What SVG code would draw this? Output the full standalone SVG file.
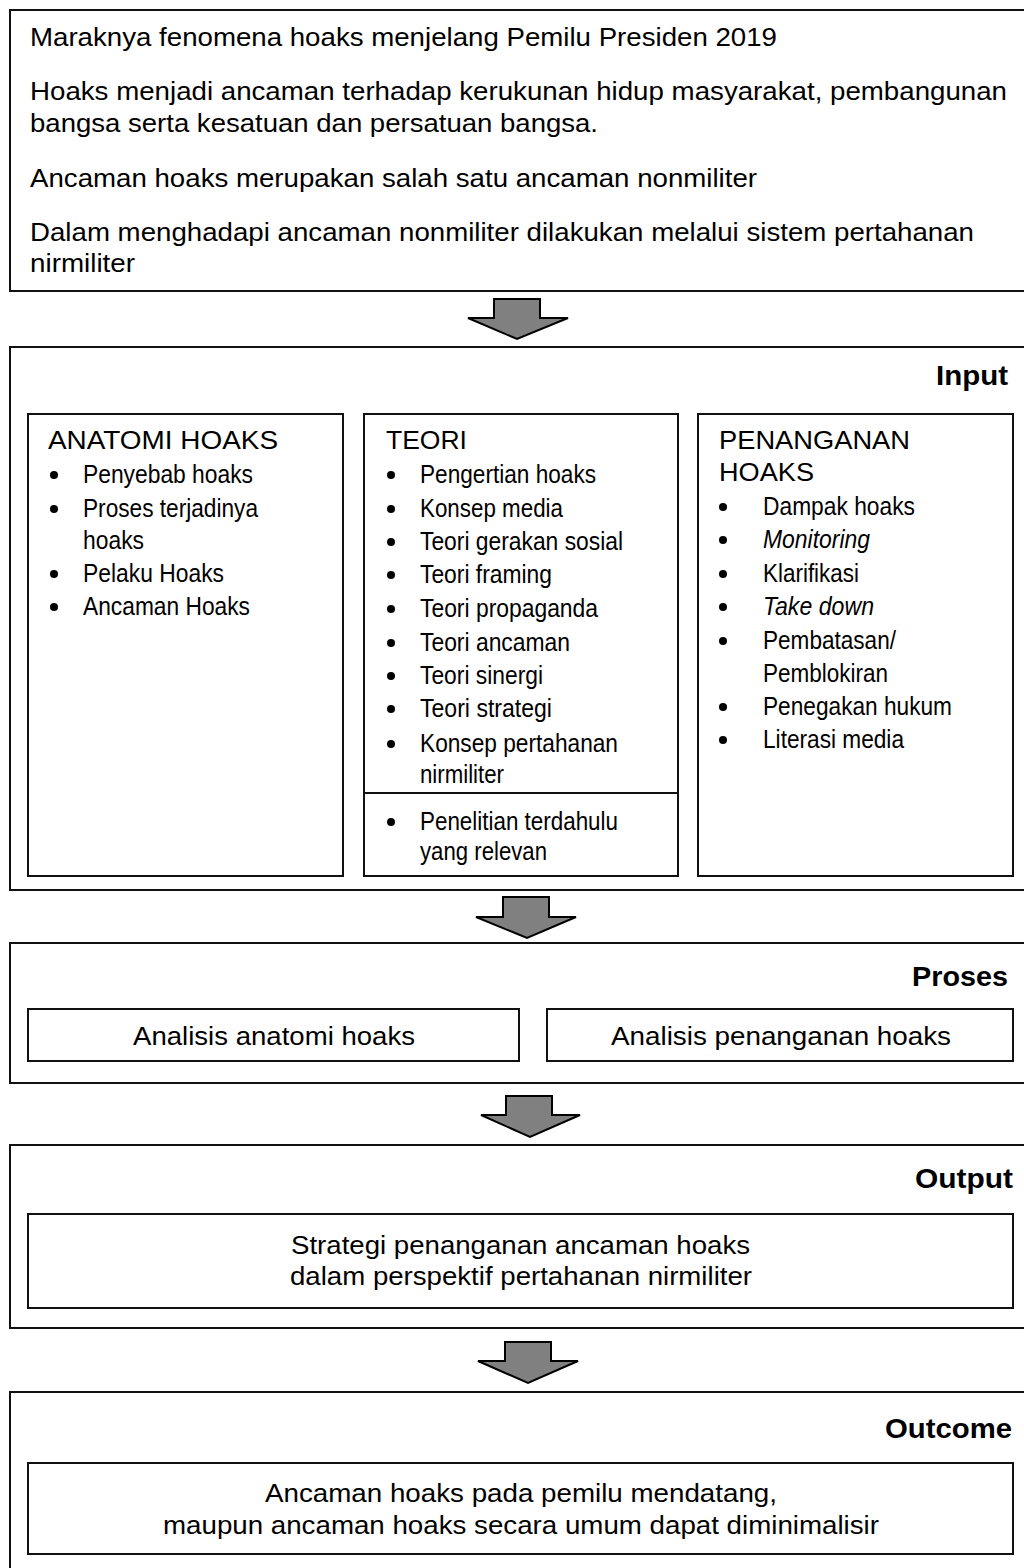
<svg xmlns="http://www.w3.org/2000/svg" width="1024" height="1568" viewBox="0 0 1024 1568">
<style>
.box{fill:#fff;stroke:#111;stroke-width:2}
.t{font-family:"Liberation Sans",Arial,sans-serif;font-size:26px;fill:#000}
.c{font-family:"Liberation Sans",Arial,sans-serif;font-size:25px;fill:#000}
.i{font-style:italic}
.b{font-family:"Liberation Sans",Arial,sans-serif;font-size:28px;font-weight:bold;fill:#000}
.dot{fill:#000}
.arr{fill:#808080;stroke:#000;stroke-width:2;stroke-linejoin:miter}
</style>
<rect width="1024" height="1568" fill="#fff"/>
<g id="latar">
<rect class="box" x="10" y="10" width="1024" height="281"/>
<text class="t" x="30" y="46" textLength="747" lengthAdjust="spacingAndGlyphs">Maraknya fenomena hoaks menjelang Pemilu Presiden 2019</text>
<text class="t" x="30" y="100" textLength="977" lengthAdjust="spacingAndGlyphs">Hoaks menjadi ancaman terhadap kerukunan hidup masyarakat, pembangunan</text>
<text class="t" x="30" y="132" textLength="568" lengthAdjust="spacingAndGlyphs">bangsa serta kesatuan dan persatuan bangsa.</text>
<text class="t" x="30" y="187" textLength="727" lengthAdjust="spacingAndGlyphs">Ancaman hoaks merupakan salah satu ancaman nonmiliter</text>
<text class="t" x="30" y="241" textLength="944" lengthAdjust="spacingAndGlyphs">Dalam menghadapi ancaman nonmiliter dilakukan melalui sistem pertahanan</text>
<text class="t" x="30" y="272" textLength="105" lengthAdjust="spacingAndGlyphs">nirmiliter</text>
</g>
<g id="input">
<rect class="box" x="10" y="347" width="1024" height="543"/>
<text class="b" x="936" y="385" textLength="72" lengthAdjust="spacingAndGlyphs">Input</text>
</g>
<g id="anatomi">
<rect class="box" x="28" y="414" width="315" height="462"/>
<text class="c" x="48" y="449" textLength="230" lengthAdjust="spacingAndGlyphs">ANATOMI HOAKS</text>
<circle class="dot" cx="54" cy="475" r="4"/>
<text class="c" x="83" y="483" textLength="170" lengthAdjust="spacingAndGlyphs">Penyebab hoaks</text>
<circle class="dot" cx="54" cy="509" r="4"/>
<text class="c" x="83" y="517" textLength="175" lengthAdjust="spacingAndGlyphs">Proses terjadinya</text>
<text class="c" x="83" y="549" textLength="61" lengthAdjust="spacingAndGlyphs">hoaks</text>
<circle class="dot" cx="54" cy="574" r="4"/>
<text class="c" x="83" y="582" textLength="141" lengthAdjust="spacingAndGlyphs">Pelaku Hoaks</text>
<circle class="dot" cx="54" cy="607" r="4"/>
<text class="c" x="83" y="615" textLength="167" lengthAdjust="spacingAndGlyphs">Ancaman Hoaks</text>
</g>
<g id="teori">
<rect class="box" x="364" y="414" width="314" height="462"/>
<line x1="364" y1="793" x2="678" y2="793" stroke="#111" stroke-width="2"/>
<text class="c" x="386" y="449" textLength="81" lengthAdjust="spacingAndGlyphs">TEORI</text>
<circle class="dot" cx="391" cy="475" r="4"/>
<text class="c" x="420" y="483" textLength="176" lengthAdjust="spacingAndGlyphs">Pengertian hoaks</text>
<circle class="dot" cx="391" cy="509" r="4"/>
<text class="c" x="420" y="517" textLength="143" lengthAdjust="spacingAndGlyphs">Konsep media</text>
<circle class="dot" cx="391" cy="542" r="4"/>
<text class="c" x="420" y="550" textLength="203" lengthAdjust="spacingAndGlyphs">Teori gerakan sosial</text>
<circle class="dot" cx="391" cy="575" r="4"/>
<text class="c" x="420" y="583" textLength="132" lengthAdjust="spacingAndGlyphs">Teori framing</text>
<circle class="dot" cx="391" cy="609" r="4"/>
<text class="c" x="420" y="617" textLength="178" lengthAdjust="spacingAndGlyphs">Teori propaganda</text>
<circle class="dot" cx="391" cy="643" r="4"/>
<text class="c" x="420" y="651" textLength="150" lengthAdjust="spacingAndGlyphs">Teori ancaman</text>
<circle class="dot" cx="391" cy="676" r="4"/>
<text class="c" x="420" y="684" textLength="123" lengthAdjust="spacingAndGlyphs">Teori sinergi</text>
<circle class="dot" cx="391" cy="709" r="4"/>
<text class="c" x="420" y="717" textLength="132" lengthAdjust="spacingAndGlyphs">Teori strategi</text>
<circle class="dot" cx="391" cy="744" r="4"/>
<text class="c" x="420" y="752" textLength="198" lengthAdjust="spacingAndGlyphs">Konsep pertahanan</text>
<text class="c" x="420" y="783" textLength="84" lengthAdjust="spacingAndGlyphs">nirmiliter</text>
<circle class="dot" cx="391" cy="822" r="4"/>
<text class="c" x="420" y="830" textLength="198" lengthAdjust="spacingAndGlyphs">Penelitian terdahulu</text>
<text class="c" x="420" y="860" textLength="127" lengthAdjust="spacingAndGlyphs">yang relevan</text>
</g>
<g id="penanganan">
<rect class="box" x="698" y="414" width="315" height="462"/>
<text class="c" x="719" y="449" textLength="191" lengthAdjust="spacingAndGlyphs">PENANGANAN</text>
<text class="c" x="719" y="481" textLength="95" lengthAdjust="spacingAndGlyphs">HOAKS</text>
<circle class="dot" cx="723" cy="507" r="4"/>
<text class="c" x="763" y="515" textLength="152" lengthAdjust="spacingAndGlyphs">Dampak hoaks</text>
<circle class="dot" cx="723" cy="540" r="4"/>
<text class="c i" x="763" y="548" textLength="107" lengthAdjust="spacingAndGlyphs">Monitoring</text>
<circle class="dot" cx="723" cy="574" r="4"/>
<text class="c" x="763" y="582" textLength="96" lengthAdjust="spacingAndGlyphs">Klarifikasi</text>
<circle class="dot" cx="723" cy="607" r="4"/>
<text class="c i" x="763" y="615" textLength="111" lengthAdjust="spacingAndGlyphs">Take down</text>
<circle class="dot" cx="723" cy="641" r="4"/>
<text class="c" x="763" y="649" textLength="133" lengthAdjust="spacingAndGlyphs">Pembatasan/</text>
<text class="c" x="763" y="682" textLength="125" lengthAdjust="spacingAndGlyphs">Pemblokiran</text>
<circle class="dot" cx="723" cy="707" r="4"/>
<text class="c" x="763" y="715" textLength="189" lengthAdjust="spacingAndGlyphs">Penegakan hukum</text>
<circle class="dot" cx="723" cy="740" r="4"/>
<text class="c" x="763" y="748" textLength="141" lengthAdjust="spacingAndGlyphs">Literasi media</text>
</g>
<g id="proses">
<rect class="box" x="10" y="943" width="1024" height="140"/>
<text class="b" x="912" y="986" textLength="96" lengthAdjust="spacingAndGlyphs">Proses</text>
</g>
<g id="analisis-anatomi">
<rect class="box" x="28" y="1009" width="491" height="52"/>
<text class="c" x="133" y="1045" textLength="282" lengthAdjust="spacingAndGlyphs">Analisis anatomi hoaks</text>
</g>
<g id="analisis-penanganan">
<rect class="box" x="547" y="1009" width="466" height="52"/>
<text class="c" x="611" y="1045" textLength="340" lengthAdjust="spacingAndGlyphs">Analisis penanganan hoaks</text>
</g>
<g id="output">
<rect class="box" x="10" y="1145" width="1024" height="183"/>
<text class="b" x="915" y="1188" textLength="98" lengthAdjust="spacingAndGlyphs">Output</text>
</g>
<g id="strategi">
<rect class="box" x="28" y="1214" width="985" height="94"/>
<text class="c" x="291" y="1254" textLength="459" lengthAdjust="spacingAndGlyphs">Strategi penanganan ancaman hoaks</text>
<text class="c" x="290" y="1285" textLength="462" lengthAdjust="spacingAndGlyphs">dalam perspektif pertahanan nirmiliter</text>
</g>
<g id="outcome">
<rect class="box" x="10" y="1392" width="1024" height="190"/>
<text class="b" x="885" y="1438" textLength="127" lengthAdjust="spacingAndGlyphs">Outcome</text>
</g>
<g id="ancaman">
<rect class="box" x="28" y="1463" width="985" height="91"/>
<text class="c" x="265" y="1502" textLength="512" lengthAdjust="spacingAndGlyphs">Ancaman hoaks pada pemilu mendatang,</text>
<text class="c" x="163" y="1534" textLength="716" lengthAdjust="spacingAndGlyphs">maupun ancaman hoaks secara umum dapat diminimalisir</text>
</g>
<g id="connectors">
<polygon class="arr" points="494,299 540,299 540,318 568,318 517,339 468,318 494,318"/>
<polygon class="arr" points="503,897 549,897 549,917 576,917 527,938 476,917 503,917"/>
<polygon class="arr" points="506,1096 552,1096 552,1115 580,1115 530,1137 481,1115 506,1115"/>
<polygon class="arr" points="505,1342 551,1342 551,1361 578,1361 528,1383 478,1361 505,1361"/>
</g>
</svg>
